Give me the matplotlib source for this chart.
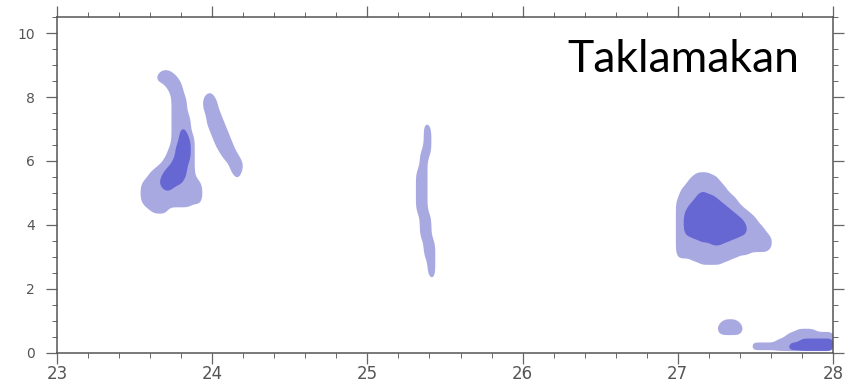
import numpy as np
import matplotlib
matplotlib.use("Agg")
import matplotlib.pyplot as plt
from matplotlib.ticker import MultipleLocator

# ---------------- data ----------------
# regular grid on which the field is given
x_start, x_end, x_step = 23.0, 28.0, 0.025
y_start, y_end, y_step = 0.0, 10.5, 0.1
x_ticks = [23, 24, 25, 26, 27, 28]
y_ticks = [0, 2, 4, 6, 8, 10]
label_text = "Taklamakan"

# field classes (0 none, 1 light, 2 dark), patch by patch:
# first grid column, top grid row, then rows from top to bottom
patch_a_col, patch_a_top = 22, 88
patch_a = [
    "00000111",
    "000011111",
    "0011111111",
    "0000111111",
    "00000011111",
    "00000001111",
    "00000001111",
    "0000000011100000011",
    "0000000011110000111",
    "00000000111100001111",
    "00000000111100001111",
    "00000000111100001111",
    "00000000111100001111",
    "000000001111000001111",
    "000000001111100001111",
    "000000001111100001111",
    "0000000011111000011111",
    "0000000011111000011111",
    "0000000011221000001111",
    "00000000112210000011111",
    "00000000112211000011111",
    "00000000112221000001111",
    "000000001122210000011111",
    "000000001222210000011111",
    "000000011222210000001111",
    "0000000112222100000011111",
    "0000000112222100000001111",
    "00000011122221000000011111",
    "00000011222221000000001111",
    "000001112222110000000001111",
    "000011122222110000000001111",
    "00011122222211000000000111",
    "00111122222211000000000011",
    "00111222222211000000000011",
    "011112222221111",
    "1111222222211111",
    "1111122221111111",
    "1111112211111111",
    "1111111111111111",
    "1111111111111111",
    "1111111111111111",
    "1111111111111111",
    "0111111111111",
    "0011111",
    "0001111",
]

patch_b_col, patch_b_top = 93, 72
patch_b = (["001"] + ["0011"] * 8 + ["0111"] * 2 + ["011"] * 4 + ["111"] * 14
           + ["0111"] * 8 + ["00111"] * 6 + ["00011"] * 6 + ["00001"])

patch_c_col, patch_c_top = 160, 56
patch_c = [
    "000001111",
    "00001111111",
    "00011111111",
    "000111111111",
    "0011111111111",
    "0111111111111",
    "01111122111111",
    "011112222211111",
    "1111122222211111",
    "1111222222221111",
    "11122222222221111",
    "111222222222221111",
    "1122222222222221111",
    "11222222222222221111",
    "112222222222222221111",
    "112222222222222222111",
    "1122222222222222221111",
    "11222222222222222221111",
    "11222222222222222221111",
    "112222222222222222111111",
    "1111222222222222111111111",
    "1111112222222211111111111",
    "1111111112221111111111111",
    "1111111111111111111111111",
    "111111111111111111111111",
    "1111111111111111111",
    "1111111111111111",
    "00001111111111",
    "000000111111",
]

patch_d_col, patch_d_top = 170, 10
patch_d = ["001111", "0111111", "11111111", "11111111", "0111111"]

patch_e_col, patch_e_top = 179, 7
patch_e = [
    "0" * 12 + "1" * 5,
    "0" * 10 + "1" * 12,
    "0" * 9 + "1" * 13,
    "0" * 7 + "1" * 6 + "2" * 9,
    "1" * 10 + "2" * 12,
    "1" * 9 + "2" * 13,
    "1" * 9 + "2" * 13,
]

# ---------------- build field ----------------
nx = int(round((x_end - x_start) / x_step)) + 1
ny = int(round((y_end - y_start) / y_step)) + 1
xg = x_start + x_step * np.arange(nx)
yg = y_start + y_step * np.arange(ny)
Z = np.zeros((ny, nx))
for col0, top, rows in [(patch_a_col, patch_a_top, patch_a),
                        (patch_b_col, patch_b_top, patch_b),
                        (patch_c_col, patch_c_top, patch_c),
                        (patch_d_col, patch_d_top, patch_d),
                        (patch_e_col, patch_e_top, patch_e)]:
    for r, s in enumerate(rows):
        for k, ch in enumerate(s):
            Z[top - r, col0 + k] = float(ch)

# rendering only: refine each cell and soften the cell edges
f = 4
offs = (np.arange(f) - (f - 1) / 2) / f
xf = (xg[:, None] + offs[None, :] * x_step).ravel()
yf = (yg[:, None] + offs[None, :] * y_step).ravel()


def soften(mask, sx, sy):
    m = np.repeat(np.repeat(mask.astype(float), f, 0), f, 1)

    def kern(s):
        n = int(np.ceil(3 * s))
        t = np.arange(-n, n + 1)
        k = np.exp(-0.5 * (t / s) ** 2)
        return k / k.sum()

    kx, ky = kern(sx), kern(sy)
    m = np.apply_along_axis(lambda v: np.convolve(v, kx, mode="same"), 1, m)
    m = np.apply_along_axis(lambda v: np.convolve(v, ky, mode="same"), 0, m)
    return m


L = soften(Z >= 1, 0.8 * f, 1.8 * f)
D = soften(Z >= 2, 0.8 * f, 1.8 * f)

# ---------------- plot ----------------
W, H = 846, 382
fig = plt.figure(figsize=(W / 100, H / 100), dpi=100)
ax = fig.add_axes([57 / W, (H - 352.7) / H, (833 - 57) / W, (352.7 - 17.2) / H])

light = "#a9a9e2"
dark = "#6767d4"
ax.contourf(xf, yf, L, levels=[0.5, 2.0], colors=[light], antialiased=True)
ax.contourf(xf, yf, D, levels=[0.5, 2.0], colors=[dark], antialiased=True)

ax.set_xlim(23, 28)
ax.set_ylim(0, 10.5)
ax.set_xticks(x_ticks)
ax.set_yticks(y_ticks)
ax.xaxis.set_minor_locator(MultipleLocator(0.2))
ax.yaxis.set_minor_locator(MultipleLocator(0.5))

spine_col = "#555555"
for sp in ax.spines.values():
    sp.set_color(spine_col)
    sp.set_linewidth(1.1)

ax.tick_params(which="both", direction="out", top=True, right=True,
               labeltop=False, labelright=False, color="#666666")
ax.tick_params(which="major", length=8, width=0.9)
ax.tick_params(which="minor", length=3.6, width=0.7)
ax.tick_params(axis="x", labelsize=12, pad=1, labelcolor="#555555")
ax.tick_params(axis="y", labelsize=10, pad=8, labelcolor="#555555")

fig.text(567 / W, (H - 71.7) / H, label_text, fontsize=32, family="Lato",
         color="black", ha="left", va="baseline")

fig.savefig("out.png", dpi=100)
